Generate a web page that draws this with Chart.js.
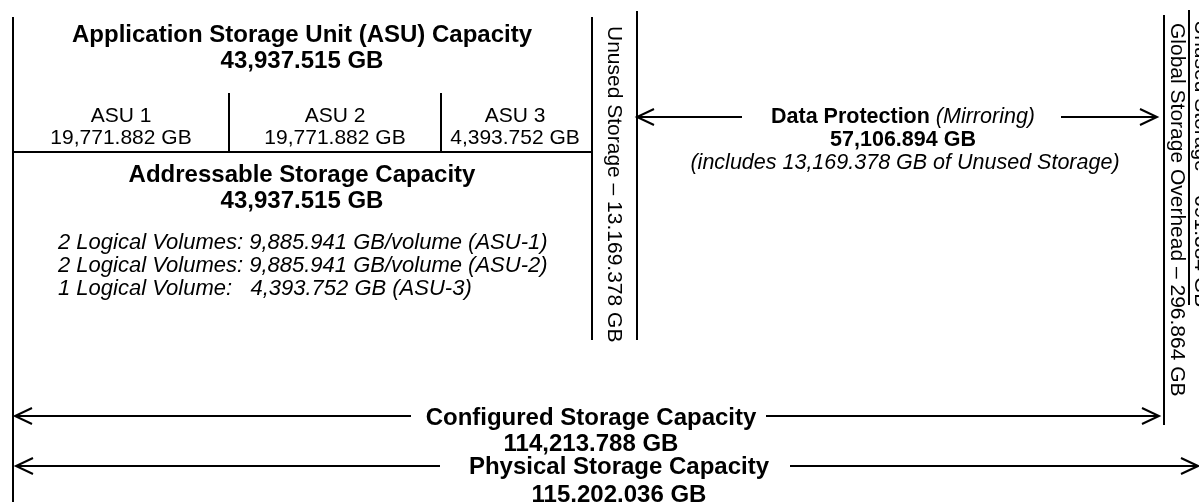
<!DOCTYPE html>
<html>
<head>
<meta charset="utf-8">
<script src="https://cdn.jsdelivr.net/npm/chart.js@4"></script>
<style>
html,body{margin:0;padding:0;background:#fff;}
#wrap{position:relative;width:1199px;height:502px;}
</style>
</head>
<body>
<div id="wrap"><canvas id="c"></canvas></div>
<script>
// ---------------- DATA ----------------
const asuNames = ['ASU 1', 'ASU 2', 'ASU 3'];
const asuCapacityGB = [19771.882, 19771.882, 4393.752];
const asuTotalGB = 43937.515;
const addressableGB = 43937.515;
const volumeCounts = [2, 2, 1];
const volumeSizeGB = [9885.941, 9885.941, 4393.752];
const unusedStorageGB = 13169.378;
const dataProtectionGB = 57106.894;
const globalOverheadGB = 296.864;
const unusedStorage2GB = 691.384;
const configuredGB = 114213.788;
const physicalGB = 115202.036;

function fmt(v) {
  return v.toLocaleString('en-US', {minimumFractionDigits: 3, maximumFractionDigits: 3});
}

// ---------------- LAYOUT (pixel-space scale units) ----------------
const W = 1199, H = 502;
const FONT = '"Liberation Sans", Arial, Helvetica, sans-serif';
const vLines = [ // [x, y0, y1]
  [13, 17, 502], [229, 93, 152], [441, 93, 152],
  [592, 17, 340], [637, 11, 340], [1164, 15, 425], [1189, 10, 305]
];
const hLines = [[152, 13, 592]]; // [y, x0, x1]
const arrows = [ // [y, x0, x1, headAt ('L' or 'R')]
  [117, 637, 742, 'L'], [117, 1061, 1157, 'R'],
  [416, 15, 411, 'L'], [416, 766, 1159, 'R'],
  [466, 16, 440, 'L'], [466, 790, 1198, 'R']
];
const HEAD_DX = 17, HEAD_DY = 8;

const lineStyle = {showLine: true, borderColor: '#000', borderWidth: 2, pointRadius: 0, fill: false, tension: 0};
const datasets = [];
vLines.forEach(([x, y0, y1]) => datasets.push({...lineStyle, data: [{x, y: y0}, {x, y: y1}]}));
hLines.forEach(([y, x0, x1]) => datasets.push({...lineStyle, data: [{x: x0, y}, {x: x1, y}]}));
arrows.forEach(([y, x0, x1, h]) => {
  datasets.push({...lineStyle, data: [{x: x0, y}, {x: x1, y}]});
  const tx = h === 'L' ? x0 : x1;
  const d = h === 'L' ? HEAD_DX : -HEAD_DX;
  datasets.push({...lineStyle, data: [{x: tx + d, y: y - HEAD_DY}, {x: tx, y}, {x: tx + d, y: y + HEAD_DY}]});
});

const B = 24, N = 21, R = 21;
const texts = [
  {parts: [['Application Storage Unit (ASU) Capacity', 'b']], x: 302, y: 35, size: B},
  {parts: [[fmt(asuTotalGB) + ' GB', 'b']], x: 302, y: 61, size: B},
  {parts: [['Addressable Storage Capacity', 'b']], x: 302, y: 175, size: B},
  {parts: [[fmt(addressableGB) + ' GB', 'b']], x: 302, y: 201, size: B},
  {parts: [['Data Protection ', 'b'], ['(Mirroring)', 'i']], x: 903, y: 117, size: 21.5},
  {parts: [[fmt(dataProtectionGB) + ' GB', 'b']], x: 903, y: 140, size: 21.5},
  {parts: [['(includes ' + fmt(unusedStorageGB) + ' GB of Unused Storage)', 'i']], x: 905, y: 163, size: 21.5},
  {parts: [['Configured Storage Capacity', 'b']], x: 591, y: 418, size: B},
  {parts: [[fmt(configuredGB) + ' GB', 'b']], x: 591, y: 444, size: B},
  {parts: [['Physical Storage Capacity', 'b']], x: 619, y: 467, size: B},
  {parts: [[fmt(physicalGB) + ' GB', 'b']], x: 619, y: 495, size: B}
];
const asuCenters = [121, 335, 515];
asuNames.forEach((n, i) => {
  texts.push({parts: [[n, 'n']], x: asuCenters[i], y: 116, size: N});
  texts.push({parts: [[fmt(asuCapacityGB[i]) + ' GB', 'n']], x: asuCenters[i], y: 138, size: N});
});
const volY = [243, 266, 289];
volumeCounts.forEach((c, i) => {
  const s = c > 1
    ? c + ' Logical Volumes: ' + fmt(volumeSizeGB[i]) + ' GB/volume (ASU-' + (i + 1) + ')'
    : c + ' Logical Volume:   ' + fmt(volumeSizeGB[i]) + ' GB (ASU-' + (i + 1) + ')';
  texts.push({parts: [[s, 'i']], x: 58, y: volY[i], size: 22, align: 'left'});
});
const rotTexts = [
  {t: 'Unused Storage – ' + fmt(unusedStorageGB).replace(/,/g, '.') + ' GB', x: 614, y: 26},
  {t: 'Global Storage Overhead – ' + fmt(globalOverheadGB) + ' GB', x: 1177, y: 23},
  {t: 'Unused Storage – ' + fmt(unusedStorage2GB) + ' GB', x: 1201, y: 20}
];

function fontFor(style, size) {
  if (style === 'b') return 'bold ' + size + 'px ' + FONT;
  if (style === 'i') return 'italic ' + size + 'px ' + FONT;
  return size + 'px ' + FONT;
}

const textPlugin = {
  id: 'diagramText',
  afterDatasetsDraw(chart) {
    const ctx = chart.ctx;
    const xs = chart.scales.x, ys = chart.scales.y;
    ctx.save();
    ctx.fillStyle = '#000';
    ctx.textBaseline = 'middle';
    texts.forEach(item => {
      const px = xs.getPixelForValue(item.x), py = ys.getPixelForValue(item.y);
      let total = 0;
      const widths = item.parts.map(([t, st]) => { ctx.font = fontFor(st, item.size); const w = ctx.measureText(t).width; total += w; return w; });
      let cx = item.align === 'left' ? px : px - total / 2;
      ctx.textAlign = 'left';
      item.parts.forEach(([t, st], k) => {
        ctx.font = fontFor(st, item.size);
        ctx.fillText(t, cx, py);
        cx += widths[k];
      });
    });
    rotTexts.forEach(r => {
      const px = xs.getPixelForValue(r.x), py = ys.getPixelForValue(r.y);
      ctx.save();
      ctx.translate(px, py);
      ctx.rotate(Math.PI / 2);
      ctx.font = fontFor('n', R);
      ctx.textAlign = 'left';
      ctx.fillText(r.t, 0, 0);
      ctx.restore();
    });
    ctx.restore();
  }
};

new Chart(document.getElementById('c'), {
  type: 'scatter',
  data: {datasets},
  options: {
    responsive: true,
    maintainAspectRatio: false,
    animation: false,
    layout: {padding: 0},
    plugins: {legend: {display: false}, tooltip: {enabled: false}},
    scales: {
      x: {type: 'linear', min: 0, max: W, display: false},
      y: {type: 'linear', min: 0, max: H, reverse: true, display: false}
    },
    elements: {line: {borderCapStyle: 'butt', borderJoinStyle: 'miter'}}
  },
  plugins: [textPlugin]
});
</script>
</body>
</html>
